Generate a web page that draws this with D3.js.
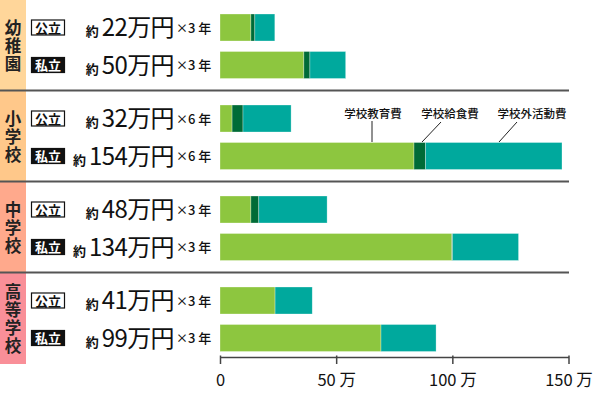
<!DOCTYPE html>
<html>
<head>
<meta charset="utf-8">
<script src="https://cdn.jsdelivr.net/npm/d3@7"></script>
<style>
  body { margin: 0; background: #fff; }
  svg { font-family: "Noto Sans CJK JP", "Noto Sans", sans-serif; }
</style>
</head>
<body>
<svg id="chart" width="596" height="394"></svg>
<script>
// school stages and public / private
const stages = ["幼稚園", "小学校", "中学校", "高等学校"];
const kinds = ["公立", "私立"];
const stageColors = ["#ffd69a", "#ffc88a", "#ffa98c", "#f98f98"];

// cost per year (万円)
const eduCost =   [13.3, 36.1, 5.2, 83.5, 13.3, 99.8, 23.7, 69.3];
const lunchCost = [1.7, 2.6, 4.7, 5.0, 3.4, 0.3, 0, 0];
const otherCost = [8.6, 15.4, 20.7, 58.7, 29.4, 28.4, 16.0, 23.7];

// label text on the left
const totals = [22, 50, 32, 154, 48, 134, 41, 99];
const years = [3, 3, 6, 6, 3, 3, 3, 3];

const parts = ["学校教育費", "学校給食費", "学校外活動費"];
const partColors = ["#8dc63f", "#006b37", "#00a99d"];
const ticks = [0, 50, 100, 150];

const rows = eduCost.map((d, i) => ({
  stage: stages[Math.floor(i / 2)],
  kind: kinds[i % 2],
  vals: [d, lunchCost[i], otherCost[i]],
  total: totals[i],
  years: years[i]
}));

const svg = d3.select("#chart");

const x = d3.scaleLinear().domain([0, 150]).range([220, 568.5]);
const yGroup = d3.scaleBand().domain(stages).range([0, 364]);
const yKind = d3.scalePoint().domain(kinds).range([27.5, 65]);
const barH = 27;
const rowY = r => yGroup(r.stage) + yKind(r.kind);

// left colour strip per stage
svg.selectAll("rect.strip")
  .data(stages)
  .join("rect")
  .attr("class", "strip")
  .attr("x", 0)
  .attr("y", d => yGroup(d))
  .attr("width", 26)
  .attr("height", yGroup.bandwidth())
  .attr("fill", (d, i) => stageColors[i]);

// stage names, written vertically
svg.selectAll("text.stage")
  .data(stages)
  .join("text")
  .attr("class", "stage")
  .attr("x", 13)
  .attr("y", d => yGroup(d) + yGroup.bandwidth() / 2 + 1)
  .attr("text-anchor", "middle")
  .style("writing-mode", "vertical-rl")
  .attr("letter-spacing", 1.5)
  .attr("font-size", 16.5)
  .attr("font-weight", "bold")
  .attr("fill", "#222")
  .text(d => d);

// separators
svg.selectAll("line.sep")
  .data(stages.slice(1))
  .join("line")
  .attr("class", "sep")
  .attr("x1", 0).attr("x2", 569)
  .attr("y1", d => yGroup(d) - 0.5)
  .attr("y2", d => yGroup(d) - 0.5)
  .attr("stroke", "#555")
  .attr("stroke-width", 2);

const row = svg.selectAll("g.row")
  .data(rows)
  .join("g")
  .attr("class", "row")
  .attr("transform", d => `translate(0,${rowY(d)})`);

// 公立 / 私立 badge
row.append("rect")
  .attr("x", 31.5).attr("y", -7.5)
  .attr("width", 33).attr("height", 15)
  .attr("fill", d => d.kind === "私立" ? "#111" : "#fff")
  .attr("stroke", "#111")
  .attr("stroke-width", 1.2);
row.append("text")
  .attr("x", 48).attr("y", 5)
  .attr("text-anchor", "middle")
  .attr("font-size", 13)
  .attr("font-weight", "bold")
  .attr("fill", d => d.kind === "私立" ? "#fff" : "#111")
  .text(d => d.kind);

// 約 NN万円
const amt = row.append("text")
  .attr("x", 174).attr("y", 8.5)
  .attr("text-anchor", "end")
  .attr("fill", "#111");
amt.append("tspan").attr("font-size", 13).attr("font-weight", "bold").text("約 ");
amt.append("tspan").attr("font-size", 24).attr("font-weight", "normal").attr("letter-spacing", -0.6)
  .text(d => d.total + "万円");

const yr = row.append("text")
  .attr("x", 176).attr("y", 5)
  .attr("fill", "#111")
  .attr("font-size", 13)
  .attr("font-weight", "500");
yr.append("tspan").attr("font-size", 12).text("×");
yr.append("tspan").text(d => d.years + " 年");

// stacked bars
row.selectAll("rect.seg")
  .data(d => {
    let acc = 0;
    return d.vals.map((v, k) => {
      const s = { x0: acc, x1: acc + v, k };
      acc += v;
      return s;
    }).filter(s => s.x1 > s.x0);
  })
  .join("rect")
  .attr("class", "seg")
  .attr("x", s => x(s.x0))
  .attr("y", -barH / 2)
  .attr("width", s => x(s.x1) - x(s.x0))
  .attr("height", barH)
  .attr("fill", s => partColors[s.k])
  .attr("stroke", "#fff")
  .attr("stroke-opacity", 0.5)
  .attr("stroke-width", 0.6);

// annotation labels
const ann = [
  { name: parts[0], tx: 373, lx1: 372, ly1: 121, lx2: 372, ly2: 142 },
  { name: parts[1], tx: 450, lx1: 441, ly1: 122, lx2: 422, ly2: 142 },
  { name: parts[2], tx: 532, lx1: 517, ly1: 122, lx2: 499, ly2: 142 }
];
svg.selectAll("text.ann")
  .data(ann)
  .join("text")
  .attr("class", "ann")
  .attr("x", d => d.tx).attr("y", 118)
  .attr("text-anchor", "middle")
  .attr("font-size", 11.5)
  .attr("font-weight", "500")
  .attr("fill", "#111")
  .text(d => d.name);
svg.selectAll("line.ann")
  .data(ann)
  .join("line")
  .attr("class", "ann")
  .attr("x1", d => d.lx1).attr("y1", d => d.ly1)
  .attr("x2", d => d.lx2).attr("y2", d => d.ly2)
  .attr("stroke", "#222")
  .attr("stroke-width", 1);

// x axis
const axis = svg.append("g")
  .attr("transform", "translate(0,357)")
  .call(d3.axisBottom(x).tickValues(ticks).tickSize(7).tickSizeOuter(0)
    .tickFormat(d => d === 0 ? "0" : d + " 万"));
axis.select(".domain").attr("stroke", "#444").attr("stroke-width", 1.5);
axis.selectAll(".tick line").attr("stroke", "#444").attr("stroke-width", 1.5).attr("y1", -1.5);
axis.selectAll(".tick text")
  .attr("y", 17)
  .attr("font-size", 16.5)
  .attr("font-family", "'Noto Sans CJK JP', sans-serif")
  .attr("fill", "#111");
</script>
</body>
</html>
